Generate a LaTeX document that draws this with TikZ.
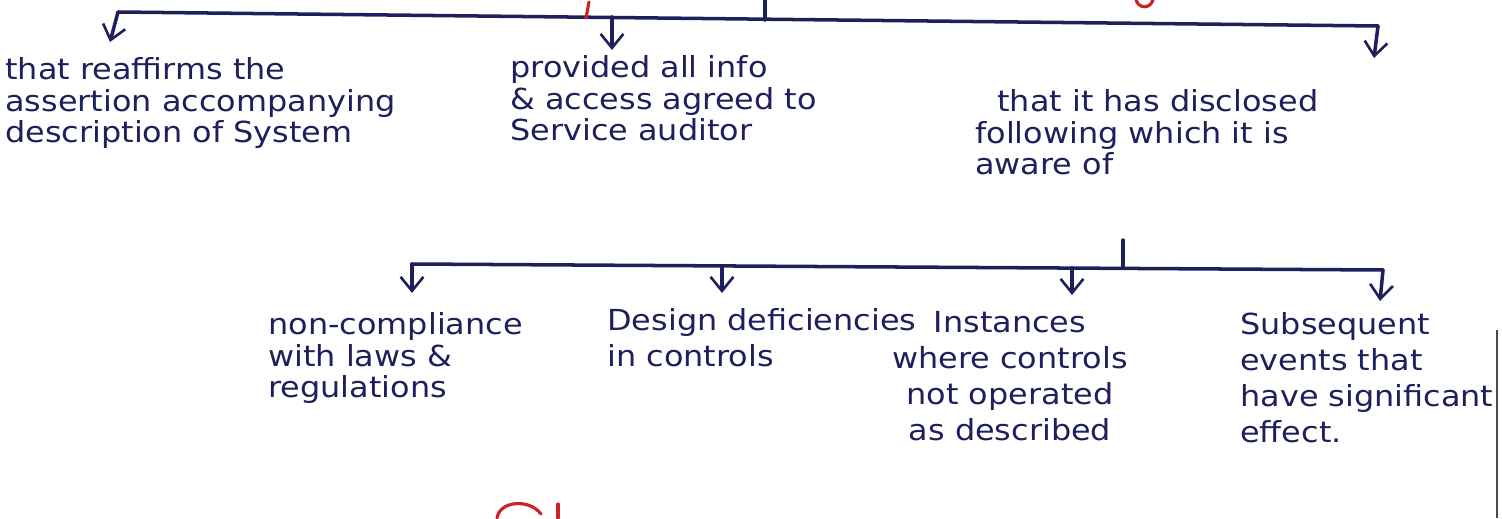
\documentclass[tikz,border=0pt]{standalone}
\usepackage{fontspec}
\setmainfont{DejaVu Sans}[FakeStretch=1.1]
\usetikzlibrary{arrows.meta}

\definecolor{ink}{RGB}{30,32,92}
\definecolor{redink}{RGB}{205,35,40}

\tikzset{
    note/.style={anchor=north west, inner sep=0pt, align=left, text=ink,
        font=\fontsize{16.5}{18}\selectfont},
    loose/.style={font=\fontsize{16.5}{20.5}\selectfont},
    bar/.style={draw=ink, line width=2pt, line cap=round, line join=round},
    branch/.style={bar, -{Straight Barb[length=8pt, width=13pt, line width=1.5pt]}},
    redmark/.style={draw=redink, line width=1.8pt, line cap=round},
}

\begin{document}
\begin{tikzpicture}[x=0.02cm, y=-0.02cm]
    \useasboundingbox (0, 0) rectangle (1502, 518);

    % what the organisation states
    \node[note] (reaffirm) at (5, 57) {that reaffirms the\\assertion accompanying\\description of System};
    \node[note] (provided) at (510, 55) {provided all info\\\& access agreed to\\Service auditor};
    \node[note] (disclosed) at (975, 89) {\hspace*{0.44cm}that it has disclosed\\following which it is\\aware of};

    % what it has disclosed
    \node[note] (noncomp) at (268, 312) {non-compliance\\with laws \&\\regulations};
    \node[note, loose] (design) at (607, 308) {Design deficiencies\\in controls};
    \node[note, loose, anchor=north, align=center] (instances) at (1010, 311) {Instances\\where controls\\not operated\\as described};
    \node[note, loose] (subseq) at (1240, 312) {Subsequent\\events that\\have significant\\effect.};

    % upper bracket
    \coordinate (top) at (765, 0);
    \coordinate (hub) at (765, 20);
    \coordinate (lend) at (118, 12);
    \coordinate (mid) at (612, 17);
    \coordinate (rend) at (1378, 26);
    \coordinate (tipa) at (110, 42);
    \coordinate (tipb) at (612, 50);
    \coordinate (tipc) at (1374, 58);

    \draw[bar] (top) -- (hub);
    \draw[bar] (lend) -- (rend);
    \draw[branch] (lend) -- (tipa);
    \draw[branch] (mid) -- (tipb);
    \draw[branch] (rend) -- (tipc);

    % lower bracket
    \coordinate (stem) at (1123, 240);
    \coordinate (hubb) at (1123, 267);
    \coordinate (lendb) at (412, 264);
    \coordinate (midb) at (722, 266);
    \coordinate (midc) at (1072, 268);
    \coordinate (rendb) at (1383, 270);
    \coordinate (tipd) at (412, 293);
    \coordinate (tipe) at (722, 293);
    \coordinate (tipf) at (1072, 295);
    \coordinate (tipg) at (1380, 301);

    \draw[bar] (stem) -- (hubb);
    \draw[bar] (lendb) -- (rendb);
    \draw[branch] (lendb) -- (tipd);
    \draw[branch] (midb) -- (tipe);
    \draw[branch] (midc) -- (tipf);
    \draw[branch] (rendb) -- (tipg);

    % red pen strokes at the edges
    \draw[redmark] (589, 2) -- (586, 18);
    \draw[redmark] (1136, 0) .. controls (1139, 9) and (1150, 9) .. (1153, 0);
    \draw[redmark] (497, 518) .. controls (500, 500) and (530, 499) .. (541, 514);
    \draw[redmark] (558, 504) -- (558, 518);

    % page edge
    \draw[black!70, line width=1.2pt] (1497, 330) -- (1497, 518);

\end{tikzpicture}
\end{document}
